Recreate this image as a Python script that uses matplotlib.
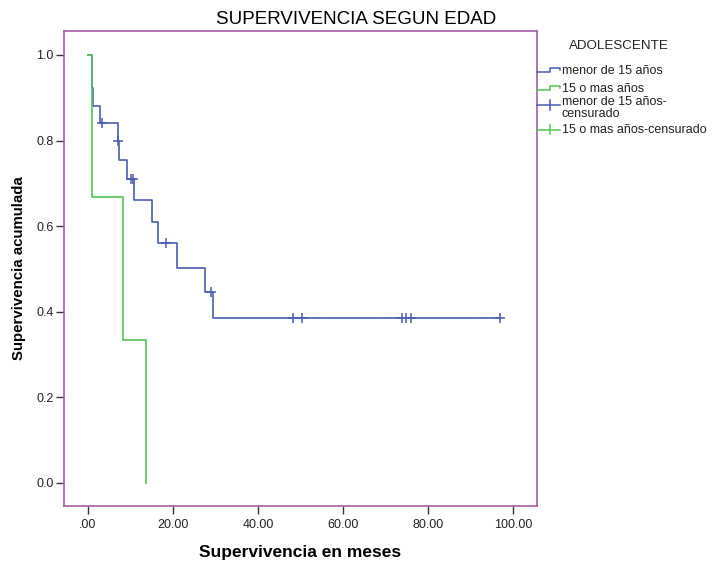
#!/usr/bin/env python3

import numpy as np
import matplotlib
matplotlib.use('Agg')
import matplotlib.pyplot as plt
from matplotlib.lines import Line2D

plt.rcParams['font.family'] = ['Liberation Sans', 'DejaVu Sans']

# Curva Kaplan-Meier: menor de 15 años
t_menor = [0, 1.0, 1.2, 2.9, 7.0, 7.3, 9.1, 10.7, 15.0, 16.4, 21.0, 27.5, 29.5, 96.8]
s_menor = [1.0, 0.922, 0.881, 0.840, 0.799, 0.755, 0.709, 0.660, 0.609, 0.560, 0.502, 0.447, 0.385, 0.385]
# censurados menor de 15 años
tc_menor = [3.2, 7.1, 10.0, 10.5, 18.3, 29.0, 48.3, 50.4, 73.8, 74.8, 75.9, 96.8]
sc_menor = [0.840, 0.799, 0.709, 0.709, 0.560, 0.447, 0.385, 0.385, 0.385, 0.385, 0.385, 0.385]

# Curva: 15 o mas años
t_mayor = [0, 1.0, 8.3, 13.6]
s_mayor = [1.0, 0.667, 0.333, 0.0]

x_ticks = [0, 20, 40, 60, 80, 100]
x_labels = ['.00', '20.00', '40.00', '60.00', '80.00', '100.00']
y_ticks = [0.0, 0.2, 0.4, 0.6, 0.8, 1.0]

azul = '#4a5db3'
verde = '#52c552'
morado = '#a85aa8'

W, H = 712, 564
fig = plt.figure(figsize=(W / 100, H / 100), dpi=100)
ax = fig.add_axes([64 / W, 1 - 506 / H, (537 - 64) / W, (506 - 31) / H])

ax.step(t_menor, s_menor, where='post', color=azul, lw=1.2)
ax.plot(tc_menor, sc_menor, ls='none', marker='+', ms=7, mew=1.1, color=azul)
ax.step(t_mayor, s_mayor, where='post', color=verde, lw=1.2)

ax.set_xlim(-5.65, 105.6)
ax.set_ylim(-0.054, 1.056)
ax.set_xticks(x_ticks)
ax.set_xticklabels(x_labels)
ax.set_yticks(y_ticks)
ax.set_yticklabels(['%.1f' % v for v in y_ticks])
ax.tick_params(direction='out', length=5.5, width=1, color='#333333',
               labelsize=9, labelcolor='#222222', pad=2)
ax.tick_params(axis='x', pad=4)
for sp in ax.spines.values():
    sp.set_color(morado)
    sp.set_linewidth(1.2)

ax.set_xlabel('Supervivencia en meses', fontsize=12.5, fontweight='bold', labelpad=10)
ax.set_ylabel('Supervivencia acumulada', fontsize=10.8, fontweight='bold', labelpad=7)
fig.text(356 / W, 1 - 19 / H, 'SUPERVIVENCIA SEGUN EDAD', fontsize=13.5,
         ha='center', va='center')


# leyenda dibujada a mano (coordenadas en pixeles desde arriba)
def fx(px):
    return px / W


def fy(py):
    return 1 - py / H


fig.text(fx(619), fy(46), 'ADOLESCENTE', fontsize=9.6, ha='center', va='center', color='#222222')

for col, y0, lab in [(azul, 71.5, 'menor de 15 años'), (verde, 89.5, '15 o mas años')]:
    xs = [537, 550, 550, 560, 560]
    ys = [y0, y0, y0 - 4, y0 - 4, y0 - 1.5]
    fig.add_artist(Line2D([fx(v) for v in xs], [fy(v) for v in ys], color=col, lw=1.1))
    fig.text(fx(562), fy(y0 - 1), lab, fontsize=9, ha='left', va='center', color='#222222')

for col, y0 in [(azul, 105), (verde, 129.5)]:
    fig.add_artist(Line2D([fx(537), fx(560)], [fy(y0), fy(y0)], color=col, lw=1.1))
    fig.add_artist(Line2D([fx(550), fx(550)], [fy(y0 - 5), fy(y0 + 5)], color=col, lw=1.1))
fig.text(fx(562), fy(108), 'menor de 15 años-\ncensurado', fontsize=9, ha='left', va='center',
         color='#222222', linespacing=0.9)
fig.text(fx(562), fy(129.5), '15 o mas años-censurado', fontsize=9, ha='left', va='center',
         color='#222222')

fig.savefig('out.png', dpi=100)
